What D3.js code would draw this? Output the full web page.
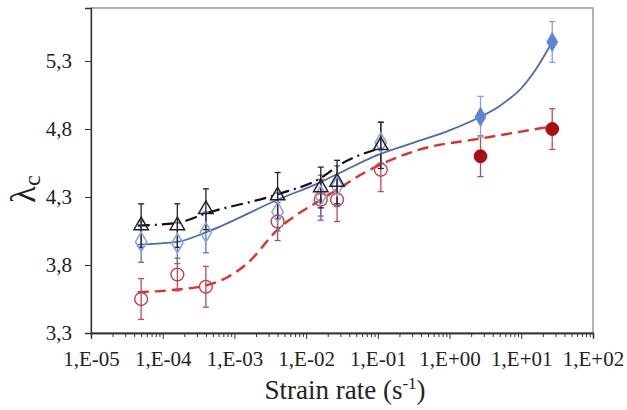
<!DOCTYPE html>
<html><head><meta charset="utf-8">
<script src="https://cdn.jsdelivr.net/npm/d3@7"></script>
<style>body{margin:0;background:#fff}svg{display:block}</style>
</head><body><svg id="c" width="627" height="410"></svg>
<script>
// ---- data ----
const xTicks = [1e-5,1e-4,1e-3,1e-2,1e-1,1e0,1e1,1e2];
const xTickLabels = ["1,E-05","1,E-04","1,E-03","1,E-02","1,E-01","1,E+00","1,E+01","1,E+02"];
const yTicks = [3.3,3.8,4.3,4.8,5.3];
const yTickLabels = ["3,3","3,8","4,3","4,8","5,3"];

const lowRates = [5e-5,1.6e-4,4e-4,4e-3,1.6e-2,2.7e-2,1.1e-1];
const highRates = [2.7,27];

const triVals = [4.09,4.09,4.21,4.31,4.37,4.41,4.68];
const triErr  = [0.16,0.16,0.15,0.17,0.15,0.16,0.17];

const blueOpenVals = [3.97,3.96,4.04,4.19,4.31,4.38,4.70];
const blueOpenErr  = [0.15,0.15,0.15,0.14,0.15,0.15,0.15];
const blueFillVals = [4.89,5.44];
const blueFillErr  = [0.15,0.15];

const redOpenVals = [3.55,3.73,3.64,4.12,4.28,4.28,4.50];
const redOpenErr  = [0.15,0.12,0.15,0.14,0.15,0.16,0.16];
const redFillVals = [4.60,4.80];
const redFillErr  = [0.15,0.15];

// fitted trend curves (rate, value)
const blackFitX = [4.5e-5,1.6e-4,4e-4,4e-3,1.6e-2,3e-2,1.1e-1];
const blackFitY = [4.09,4.11,4.18,4.32,4.44,4.54,4.66];
const blueFitX = [4.5e-5,1.6e-4,4e-4,4e-3,1.6e-2,3e-2,1e-1,0.316,1,2.7,5,10,16,27];
const blueFitY = [3.95,3.97,4.04,4.28,4.41,4.48,4.61,4.70,4.79,4.89,4.97,5.10,5.24,5.44];
const redFitX = [4.5e-5,1.6e-4,4e-4,8e-4,1.5e-3,4e-3,1.6e-2,3e-2,5.6e-2,1.1e-1,0.39,2.7,27];
const redFitY = [3.60,3.62,3.65,3.71,3.81,4.06,4.28,4.37,4.46,4.54,4.65,4.73,4.82];

// ---- layout ----
const FONT = "'Liberation Serif', Tinos, 'Times New Roman', serif";
const svg = d3.select("#c").style("font-family", FONT);
const L = 91, T = 8, R = 593, B = 333;
const x = d3.scaleLog().domain([1e-5,1e2]).range([L,R]);
const y = d3.scaleLinear().domain([3.3,5.69]).range([B,T]);

// frame
svg.append("rect").attr("x",L).attr("y",T).attr("width",R-L).attr("height",B-T)
  .attr("fill","none").attr("stroke","#8a8a8a").attr("stroke-width",1.3);

// x axis
const minor = [];
for (let e=-5;e<2;e++) for (let m=2;m<=9;m++) minor.push(m*Math.pow(10,e));
const gx = svg.append("g").attr("transform",`translate(0,${B})`)
  .call(d3.axisBottom(x).tickValues(minor).tickSize(4).tickFormat(""));
const gx2 = svg.append("g").attr("transform",`translate(0,${B})`)
  .call(d3.axisBottom(x).tickValues(xTicks).tickSize(6).tickPadding(12)
    .tickFormat((d,i)=>xTickLabels[i]));
[gx,gx2].forEach(g=>{
  g.attr("font-family",null).style("font-family",FONT);
  g.select(".domain").attr("stroke","#333").attr("stroke-width",1.3);
  g.selectAll(".tick line").attr("stroke","#333").attr("stroke-width",1);
});
gx2.selectAll("text").style("font-family",FONT).attr("font-size",21).attr("fill","#222")
  .attr("dy","0.71em");

// y axis
const gy = svg.append("g").attr("transform",`translate(${L},0)`)
  .call(d3.axisLeft(y).tickValues(yTicks).tickSize(6).tickPadding(13)
    .tickFormat((d,i)=>yTickLabels[i]));
gy.attr("font-family",null).style("font-family",FONT);
gy.select(".domain").attr("stroke","#333").attr("stroke-width",1.3);
gy.selectAll(".tick line").attr("stroke","#333");
gy.selectAll("text").style("font-family",FONT).attr("font-size",21).attr("fill","#222");

// axis titles
const xt = svg.append("text").style("font-family",FONT).attr("x",345).attr("y",399).attr("text-anchor","middle")
  .attr("font-size",27).attr("fill","#222");
xt.append("tspan").text("Strain rate (s");
xt.append("tspan").text("-1").attr("font-size",17).attr("dy",-10);
xt.append("tspan").text(")").attr("dy",10);

const yt = svg.append("text").style("font-family",FONT).attr("transform","translate(35,203) rotate(-90)")
  .attr("font-size",35).attr("fill","#222");
yt.append("tspan").text("λ");
yt.append("tspan").text("c").attr("font-size",24).attr("dy",5);

// curves
const line = d3.line().x(d=>x(d[0])).y(d=>y(d[1])).curve(d3.curveMonotoneX);
const zip = (a,b)=>a.map((v,i)=>[v,b[i]]);
svg.append("path").attr("d",line(zip(redFitX,redFitY))).attr("fill","none")
  .attr("stroke","#e0302c").attr("stroke-width",2.4).attr("stroke-dasharray","11,6");
svg.append("path").attr("d",line(zip(blueFitX,blueFitY))).attr("fill","none")
  .attr("stroke","#4a6cb0").attr("stroke-width",1.8);
svg.append("path").attr("d",line(zip(blackFitX,blackFitY))).attr("fill","none")
  .attr("stroke","#111").attr("stroke-width",2.2).attr("stroke-dasharray","12,5,2,5");

// error bars
function errBars(xs, vs, es, color){
  const g = svg.append("g").attr("stroke",color).attr("stroke-width",1.3);
  xs.forEach((xv,i)=>{
    const px = x(xv), y1 = y(vs[i]+es[i]), y2 = y(vs[i]-es[i]);
    g.append("line").attr("x1",px).attr("x2",px).attr("y1",y1).attr("y2",y2);
    g.append("line").attr("x1",px-3).attr("x2",px+3).attr("y1",y1).attr("y2",y1);
    g.append("line").attr("x1",px-3).attr("x2",px+3).attr("y1",y2).attr("y2",y2);
  });
}
errBars(lowRates, redOpenVals, redOpenErr, "#c04a55");
errBars(highRates, redFillVals, redFillErr, "#c04a55");
errBars(lowRates, blueOpenVals, blueOpenErr, "#5a72c0");
errBars(highRates, blueFillVals, blueFillErr, "#7f9fd8");
errBars(lowRates, triVals, triErr, "#222");

// markers
const sym = (type,size)=>d3.symbol().type(type).size(size)();
function markers(xs, vs, type, size, fill, stroke, sw){
  svg.append("g").selectAll("path").data(xs).join("path")
    .attr("transform",(d,i)=>`translate(${x(d)},${y(vs[i])})`)
    .attr("d",sym(type,size)).attr("fill",fill).attr("stroke",stroke).attr("stroke-width",sw);
}
markers(lowRates, redOpenVals, d3.symbolCircle, 130, "none", "#c0404a", 1.4);
markers(highRates, redFillVals, d3.symbolCircle, 130, "#a80f14", "#a80f14", 1);
markers(lowRates, blueOpenVals, d3.symbolDiamond, 110, "none", "#8aa6dc", 1.6);
markers(highRates, blueFillVals, d3.symbolDiamond, 100, "#5b84d2", "#5b84d2", 1);
markers(lowRates, triVals, d3.symbolTriangle, 90, "none", "#222", 1.5);
</script></body></html>
